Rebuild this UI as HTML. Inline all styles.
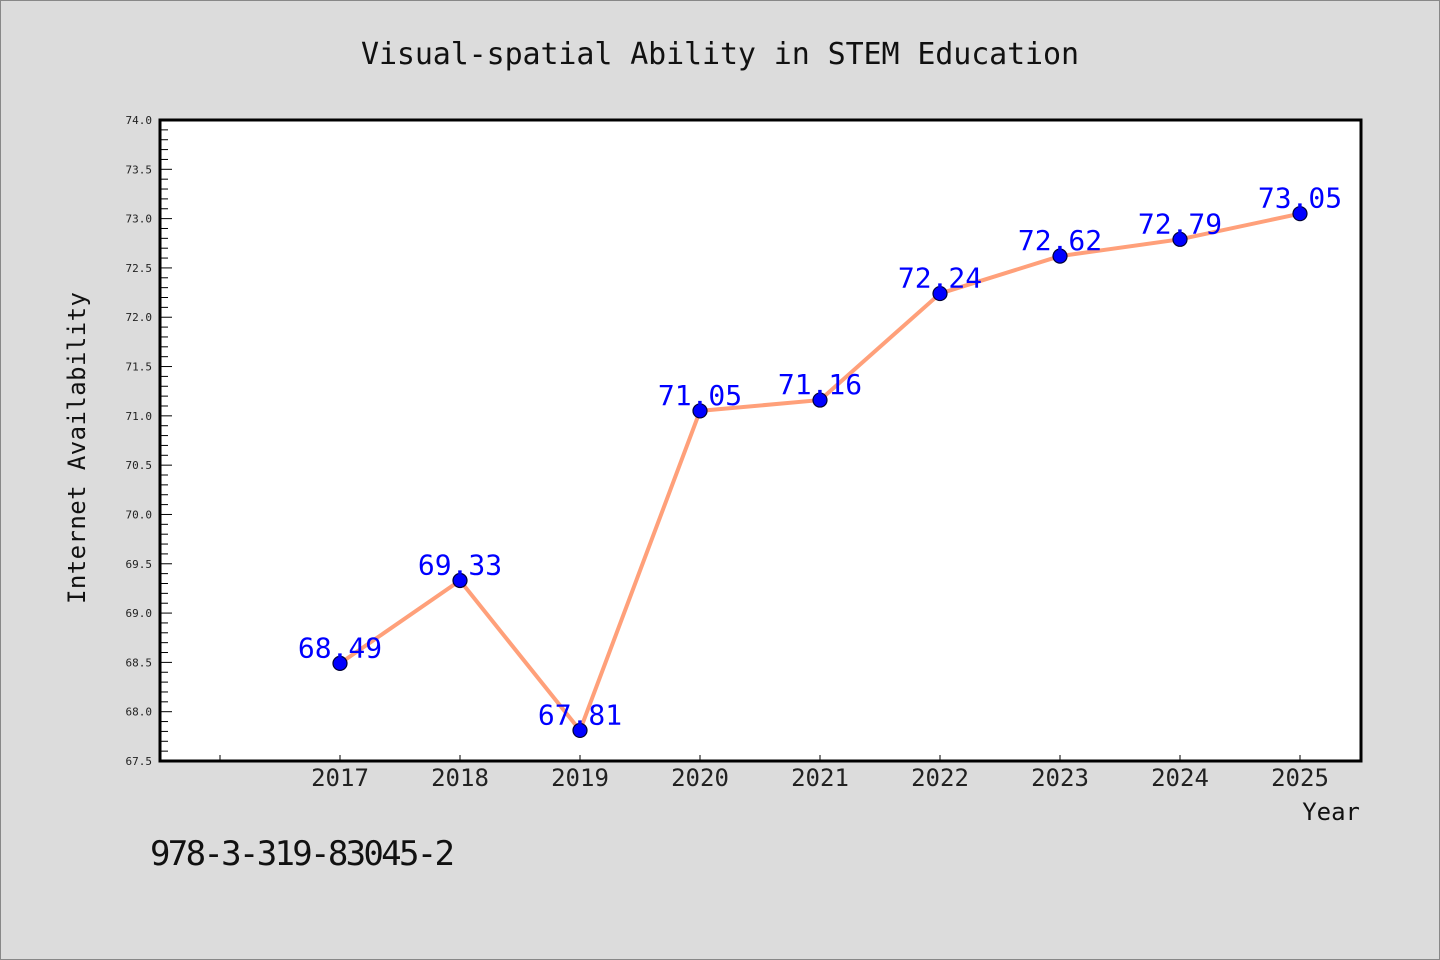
<!DOCTYPE html>
<html><head><meta charset="utf-8"><style>
body{margin:0;background:#dcdcdc}
svg{display:block}
text{font-family:"WenQuanYi Zen Hei Mono","WenQuanYi Zen Hei","DejaVu Sans Mono",monospace}
</style></head><body>
<svg id="c" width="1440" height="960" xmlns="http://www.w3.org/2000/svg">
<rect x="0.5" y="0.5" width="1439" height="959" fill="#dcdcdc" stroke="#888"/>
<text x="720" y="64" text-anchor="middle" font-size="30" textLength="718" fill="#111">Visual-spatial Ability in STEM Education</text>
<rect x="160" y="120" width="1201" height="641" fill="#fff"/>
<g id="ticks"></g>
<g id="series"></g>
<rect x="160" y="120" width="1201" height="641" fill="none" stroke="#000" stroke-width="3"/>
<text transform="translate(85,448) rotate(-90)" text-anchor="middle" font-size="24" textLength="312" fill="#111">Internet Availability</text>
<text x="1360" y="820" text-anchor="end" font-size="24" fill="#111">Year</text>
<text x="150" y="865" font-size="34" textLength="305" fill="#111">978-3-319-83045-2</text>
</svg>
<script>
const years=[2017,2018,2019,2020,2021,2022,2023,2024,2025];
const values=[68.49,69.33,67.81,71.05,71.16,72.24,72.62,72.79,73.05];
const labels=["68.49","69.33","67.81","71.05","71.16","72.24","72.62","72.79","73.05"];
const yMin=67.5,yMax=74.0;
const NS="http://www.w3.org/2000/svg";
const X=v=>160+(v-2015.5)*120;
const Y=v=>761-(v-yMin)/(yMax-yMin)*641;
function mk(tag,attrs,parent){const e=document.createElementNS(NS,tag);for(const k in attrs)e.setAttribute(k,attrs[k]);parent.appendChild(e);return e;}
const tg=document.getElementById('ticks');
for(let i=0;i<=65;i++){
  const v=yMin+i*0.1;const y=Y(v);const major=i%5==0;
  const t=mk('line',{x1:160,x2:major?172:168,y1:y,y2:y,stroke:'#000','stroke-width':1},tg);
  
  
  if(major){const l=mk('text',{x:152,y:y+4,'text-anchor':'end','font-size':11,fill:'#222'},tg);l.textContent=v.toFixed(1);
  
  }
}
for(let yr=2016;yr<=2025;yr++){
  const x=X(yr);
  const t=mk('line',{x1:x,x2:x,y1:761,y2:755,stroke:'#000','stroke-width':1},tg);
  
  
}
years.forEach(yr=>{const l=mk('text',{x:X(yr),y:786,'text-anchor':'middle','font-size':24,fill:'#222'},tg);l.textContent=yr;
  
  });
const sg=document.getElementById('series');
const pl=mk('polyline',{points:years.map((yr,i)=>X(yr)+','+Y(values[i])).join(' '),fill:'none',stroke:'#FFA07A','stroke-width':4,'stroke-linejoin':'round'},sg);


years.forEach((yr,i)=>{
  const c=mk('circle',{cx:X(yr),cy:Y(values[i]),r:7,fill:'#0000ff',stroke:'#000033','stroke-width':1.2},sg);
  
  
});
years.forEach((yr,i)=>{
  const t=mk('text',{x:X(yr),y:Y(values[i])-6,'text-anchor':'middle','font-size':28,fill:'#0000ff'},sg);
  t.textContent=labels[i];
  
  
});
</script>
</body></html>
